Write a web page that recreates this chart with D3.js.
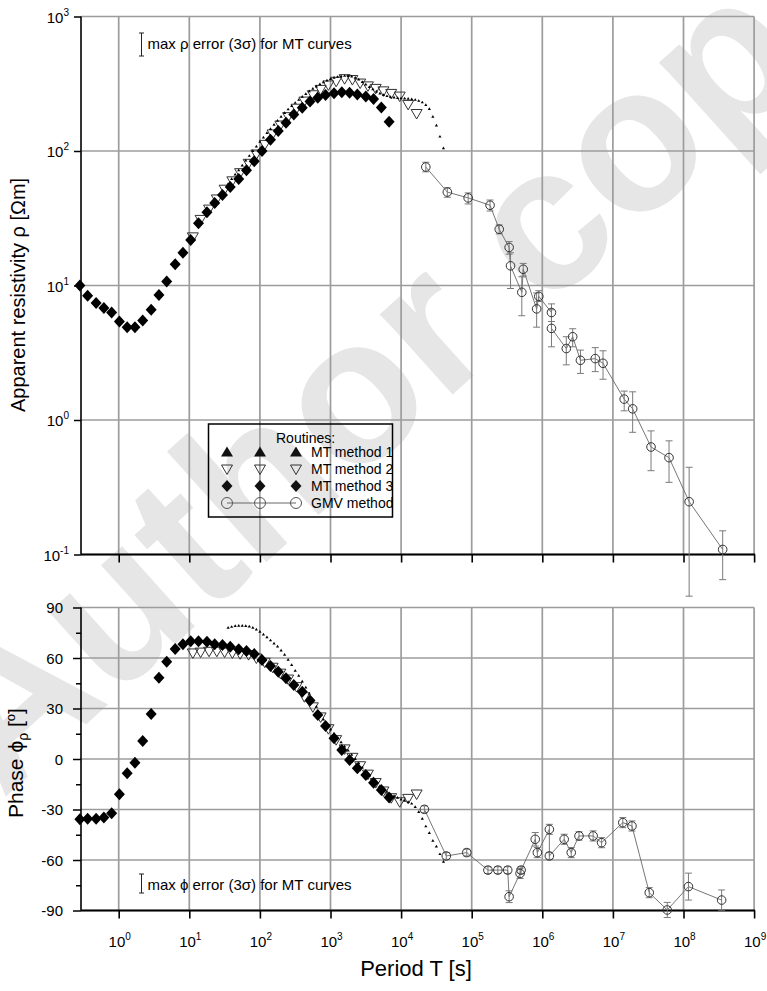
<!DOCTYPE html>
<html>
<head>
<meta charset="utf-8">
<script src="https://cdn.jsdelivr.net/npm/d3@7"></script>
<style>
  body { margin: 0; background: #fff; }
  svg { font-family: "Liberation Sans", Arial, sans-serif; }
</style>
</head>
<body>
<svg id="chart" width="767" height="991"></svg>
<script>
// ---- data (periods given as log10 T [s]) ----
// MT method 3 (black diamonds)
const mt3LogT = [-0.55, -0.44, -0.32, -0.21, -0.10, 0.01, 0.12, 0.23, 0.34, 0.46,
                 0.57, 0.68, 0.80, 0.91, 1.02, 1.13, 1.25, 1.36, 1.47, 1.58,
                 1.70, 1.81, 1.92, 2.03, 2.15, 2.26, 2.37, 2.48, 2.60, 2.71,
                 2.82, 2.93, 3.05, 3.16, 3.27, 3.38, 3.50, 3.61, 3.72, 3.83];
const mt3Rho = [10, 8.4, 7.4, 6.8, 6.3, 5.4, 4.9, 4.9, 5.5, 6.6,
                8.5, 10.7, 14.4, 17.5, 21.8, 29, 35, 41, 47, 54,
                62, 72, 84, 100, 121, 141, 162, 187, 210, 233,
                249, 261, 269, 273, 271, 263, 254, 244, 211, 165];
const mt3Phi = [-35.8, -35.5, -35.5, -34.7, -32.3, -21, -8.5, -2.2, 10.7, 26.7,
                48.3, 57.8, 65.3, 68.1, 70, 70, 69.7, 68.1, 67.7, 66.7,
                65.2, 64.2, 62.4, 58.8, 55.2, 51.9, 47.9, 44, 40, 34.7,
                26.1, 19.6, 12.3, 5.3, -0.6, -5.5, -9.5, -14.1, -18.4, -22.8];

// MT method 2 (open inverted triangles)
const mt2LogT = [1.05, 1.16, 1.28, 1.39, 1.50, 1.61, 1.72, 1.84, 1.95, 2.07,
                 2.18, 2.29, 2.40, 2.52, 2.63, 2.75, 2.86, 2.97, 3.08, 3.20,
                 3.31, 3.42, 3.53, 3.64, 3.75, 3.86, 3.98, 4.10, 4.22];
const mt2Rho = [23, 31, 37, 44, 52, 60, 69, 81, 95, 112,
                134, 156, 180, 208, 235, 262, 287, 310, 330, 345,
                340, 320, 305, 292, 280, 268, 256, 222, 190];
const mt2Phi = [63, 63.5, 64, 64, 63.5, 63, 62.5, 62, 60, 57.5,
                54.5, 51, 47.5, 43, 37, 31, 25, 18, 11.5, 6,
                1, -4, -9, -14, -19, -23, -25.4, -23.4, -20.8];

// MT method 1 (dotted, tiny triangles)
const mt1LogT = [1.55, 1.60, 1.65, 1.70, 1.75, 1.80, 1.85, 1.90, 1.95, 2.00,
                 2.05, 2.10, 2.15, 2.20, 2.25, 2.30, 2.35, 2.40, 2.45, 2.50,
                 2.55, 2.60, 2.65, 2.70, 2.75, 2.80, 2.85, 2.90, 2.95, 3.00,
                 3.05, 3.10, 3.15, 3.20, 3.25, 3.30, 3.35, 3.40, 3.45, 3.50,
                 3.55, 3.60, 3.65, 3.70, 3.75, 3.80, 3.85, 3.90, 3.95, 4.00,
                 4.05, 4.10, 4.15, 4.20, 4.25, 4.30, 4.35, 4.40, 4.45, 4.50,
                 4.55, 4.60];
const mt1Rho = [57, 62, 67, 72, 78, 85, 92, 100, 108, 117,
                126, 136, 146, 157, 168, 180, 192, 204, 216, 228,
                240, 253, 265, 278, 290, 302, 314, 325, 335, 343,
                350, 356, 360, 362, 361, 358, 350, 340, 326, 312,
                299, 288, 277, 268, 261, 256, 252, 250, 248, 247,
                246, 245, 243, 240, 236, 230, 220, 205, 180, 155,
                128, 105];
const mt1Phi = [78, 78.5, 79, 79.2, 79.2, 79, 78.7, 78, 77, 75.6,
                74, 72.3, 70.5, 68.6, 66.8, 64.5, 62, 59, 55.8, 52.5,
                49.5, 46, 42.5, 38.8, 35, 31, 27, 23.5, 20.5, 17.5,
                15, 12.5, 10, 7.5, 5, 2.5, 0, -2.5, -5, -7.5,
                -10, -12, -14, -16, -18, -19.5, -21, -22, -23, -24,
                -24.8, -25.5, -26.5, -28.5, -31.5, -35.5, -40, -44, -48.5, -52,
                -56.5, -61];

// GMV method (open circles with error bars)
const gmvRhoLogT = [4.35, 4.655, 4.95, 5.26, 5.39, 5.53, 5.55, 5.71, 5.73, 5.92,
                    5.95, 6.13, 6.13, 6.34, 6.43, 6.54, 6.75, 6.86, 7.16, 7.28,
                    7.54, 7.795, 8.08, 8.555];
const gmvRho   = [76, 49.5, 44.8, 39.5, 26.2, 19.2, 14.0, 8.9, 13.2, 6.7,
                  8.3, 6.3, 4.8, 3.4, 4.16, 2.78, 2.86, 2.64, 1.43, 1.21,
                  0.63, 0.525, 0.247, 0.109];
const gmvRhoLo = [70, 45.3, 40.4, 35.8, 24.2, 17.1, 9.5, 5.96, 11.75, 4.9,
                  7.6, 5.4, 3.5, 2.57, 3.5, 2.22, 2.29, 2.01, 1.17, 0.81,
                  0.42, 0.344, 0.049, 0.065];
const gmvRhoHi = [82.5, 53.3, 48.8, 43.2, 28.2, 21.2, 17.5, 11.6, 14.6, 8.8,
                  9.15, 7.3, 6.6, 4.16, 4.77, 3.31, 3.45, 3.27, 1.64, 1.62,
                  0.83, 0.70, 0.445, 0.150];

const gmvPhiLogT = [4.33, 4.64, 4.93, 5.23, 5.37, 5.51, 5.53, 5.685, 5.70, 5.90,
                    5.93, 6.10, 6.10, 6.31, 6.41, 6.52, 6.72, 6.84, 7.14, 7.27,
                    7.515, 7.77, 8.07, 8.54];
const gmvPhi    = [-29.9, -57.6, -55.6, -66, -66, -66, -81.8, -68, -66, -47.7,
                   -55.6, -41.8, -57.6, -47.7, -55.6, -45.7, -45.7, -49.7, -37.8, -39.8,
                   -79.4, -89.7, -75.8, -83.8];
const gmvPhiErr = [2, 2, 2, 2, 2, 2, 3.5, 3, 2, 4,
                   3, 3, 2, 3, 3, 2.5, 3, 3, 3, 3,
                   3, 4.5, 8, 6];

// ticks
const periodExp = [0, 1, 2, 3, 4, 5, 6, 7, 8, 9];
const rhoExp = [-1, 0, 1, 2, 3];
const phaseTicks = [90, 60, 30, 0, -30, -60, -90];
const phaseMinor = [75, 45, 15, -15, -45, -75];
const legendRows = ["MT method 1", "MT method 2", "MT method 3", "GMV method"];

// ---- layout ----
const svg = d3.select("#chart");
const left = 81, right = 754.1;
const x = d3.scaleLog().domain([1, 1e9]).range([118.7, right]);
const yRho = d3.scaleLog().domain([0.1, 1000]).range([554.5, 16.5]);
const yPhi = d3.scaleLinear().domain([-90, 90]).range([910.5, 607.5]);
const px = lt => x(Math.pow(10, lt));
const gridColor = "#9c9c9c";

// watermark
svg.append("text")
  .attr("transform", "translate(2,800) rotate(-42)")
  .attr("font-size", 205).attr("font-weight", "bold")
  .attr("fill", "#e6e6e6")
  .text("Author copy");

// ---- grids ----
function grid(g, yScale, yVals, y0, y1) {
  g.selectAll(".vg").data(periodExp).enter().append("line")
    .attr("x1", d => x(Math.pow(10, d))).attr("x2", d => x(Math.pow(10, d)))
    .attr("y1", y0).attr("y2", y1)
    .attr("stroke", gridColor).attr("stroke-width", 1.7);
  g.selectAll(".hg").data(yVals).enter().append("line")
    .attr("x1", left).attr("x2", right)
    .attr("y1", d => yScale(d)).attr("y2", d => yScale(d))
    .attr("stroke", gridColor).attr("stroke-width", 1.7);
}
const gTop = svg.append("g");
const gBot = svg.append("g");
grid(gTop, yRho, rhoExp.map(e => Math.pow(10, e)), yRho(1000), yRho(0.1));
grid(gBot, yPhi, phaseTicks, yPhi(90), yPhi(-90));

// ---- axes ----
function axisLines(g, yScale, y0, y1) {
  g.append("line").attr("x1", left).attr("x2", left).attr("y1", y0).attr("y2", y1)
    .attr("stroke", "#000").attr("stroke-width", 1.6);
  g.append("line").attr("x1", left).attr("x2", right + 1).attr("y1", y1).attr("y2", y1)
    .attr("stroke", "#000").attr("stroke-width", 2);
  const xa = g.append("g").attr("transform", `translate(0,${y1})`)
    .call(d3.axisBottom(x).tickValues(periodExp.map(e => Math.pow(10, e)))
      .tickSize(8).tickSizeOuter(0).tickFormat(""));
  xa.select(".domain").remove();
  xa.selectAll("line").attr("stroke", "#000").attr("stroke-width", 1.6);
}
axisLines(gTop, yRho, yRho(1000), yRho(0.1));
axisLines(gBot, yPhi, yPhi(90), yPhi(-90));

const ya = gTop.append("g").attr("transform", `translate(${left},0)`)
  .call(d3.axisLeft(yRho).tickValues(rhoExp.map(e => Math.pow(10, e)))
    .tickSize(7).tickSizeOuter(0).tickFormat(""));
ya.select(".domain").remove();
ya.selectAll("line").attr("stroke", "#000").attr("stroke-width", 1.5);

const pa = gBot.append("g").attr("transform", `translate(${left},0)`)
  .call(d3.axisLeft(yPhi).tickValues(phaseTicks).tickSize(8).tickSizeOuter(0).tickFormat(""));
pa.select(".domain").remove();
pa.selectAll("line").attr("stroke", "#000").attr("stroke-width", 1.5);
const pm = gBot.append("g").attr("transform", `translate(${left},0)`)
  .call(d3.axisLeft(yPhi).tickValues(phaseMinor).tickSize(5).tickSizeOuter(0).tickFormat(""));
pm.select(".domain").remove();
pm.selectAll("line").attr("stroke", "#000").attr("stroke-width", 1.5);

// tick labels
function powText(sel, e) {
  sel.append("tspan").text("10");
  sel.append("tspan").attr("dy", -7).attr("font-size", 10).text(e);
}
gTop.selectAll(".rl").data(rhoExp).enter().append("text")
  .attr("x", 69).attr("y", d => yRho(Math.pow(10, d)) + 6)
  .attr("text-anchor", "end").attr("font-size", 15)
  .each(function(d) { powText(d3.select(this), d); });
gBot.selectAll(".xl").data(periodExp).enter().append("text")
  .attr("x", d => x(Math.pow(10, d)) + 1).attr("y", 946.5)
  .attr("text-anchor", "middle").attr("font-size", 15)
  .each(function(d) { powText(d3.select(this), d); });
gBot.selectAll(".pl").data(phaseTicks).enter().append("text")
  .attr("x", 63).attr("y", d => yPhi(d) + 5.5)
  .attr("text-anchor", "end").attr("font-size", 15)
  .text(d => d);

// axis titles
svg.append("text").attr("transform", "translate(25,412) rotate(-90)")
  .attr("font-size", 20).text("Apparent resistivity ρ [Ωm]");
const pt = svg.append("text").attr("transform", "translate(23,818) rotate(-90)")
  .attr("font-size", 21);
pt.append("tspan").text("Phase ϕ");
pt.append("tspan").attr("font-size", 14).attr("dy", 5).text("ρ");
pt.append("tspan").attr("dy", -5).text(" [");
pt.append("tspan").attr("font-size", 13).attr("dy", -8).text("o");
pt.append("tspan").attr("dy", 8).text("]");
svg.append("text").attr("x", 416).attr("y", 976).attr("text-anchor", "middle")
  .attr("font-size", 22).text("Period T [s]");

// error annotations
function errNote(y0, y1, ty, sym) {
  const g = svg.append("g").attr("stroke", "#222").attr("stroke-width", 1);
  g.append("line").attr("x1", 141.5).attr("x2", 141.5).attr("y1", y0).attr("y2", y1);
  g.append("line").attr("x1", 139).attr("x2", 144).attr("y1", y0).attr("y2", y0);
  g.append("line").attr("x1", 139).attr("x2", 144).attr("y1", y1).attr("y2", y1);
  svg.append("text").attr("x", 147.5).attr("y", ty).attr("font-size", 15)
    .text(`max ${sym} error (3σ) for MT curves`);
}
errNote(33, 56, 49, "ρ");
errNote(874, 893, 890, "ϕ");

// ---- marks ----
const diamond = "M0,-6L5.5,0L0,6L-5.5,0Z";
const triDown = "M-5.5,-4L5.5,-4L0,5.5Z";
const triUp = "M-6,4.5L6,4.5L0,-5.5Z";
const tiny = "M-1.6,1L1.6,1L0,-1.7Z";

function gmv(g, lt, v, lo, hi, yScale) {
  const pts = lt.map((t, i) => ({ t, v: v[i], lo: lo[i], hi: hi[i] }));
  g.append("path").datum(pts)
    .attr("d", d3.line().x(d => px(d.t)).y(d => yScale(d.v)))
    .attr("fill", "none").attr("stroke", "#666").attr("stroke-width", 0.9);
  const eb = g.selectAll(".eb").data(pts).enter().append("g")
    .attr("stroke", "#7a7a7a").attr("stroke-width", 1);
  eb.append("line").attr("x1", d => px(d.t)).attr("x2", d => px(d.t))
    .attr("y1", d => yScale(d.lo)).attr("y2", d => yScale(d.hi));
  eb.append("line").attr("x1", d => px(d.t) - 3.5).attr("x2", d => px(d.t) + 3.5)
    .attr("y1", d => yScale(d.lo)).attr("y2", d => yScale(d.lo));
  eb.append("line").attr("x1", d => px(d.t) - 3.5).attr("x2", d => px(d.t) + 3.5)
    .attr("y1", d => yScale(d.hi)).attr("y2", d => yScale(d.hi));
  g.selectAll(".gc").data(pts).enter().append("circle")
    .attr("cx", d => px(d.t)).attr("cy", d => yScale(d.v)).attr("r", 4.3)
    .attr("fill", "none").attr("stroke", "#333").attr("stroke-width", 1);
}
gmv(gTop, gmvRhoLogT, gmvRho, gmvRhoLo, gmvRhoHi, yRho);
gmv(gBot, gmvPhiLogT, gmvPhi,
    gmvPhi.map((p, i) => p - gmvPhiErr[i]), gmvPhi.map((p, i) => p + gmvPhiErr[i]), yPhi);

function symbols(g, lt, v, yScale, shape, fill, stroke) {
  g.append("g").selectAll("path").data(lt.map((t, i) => [t, v[i]])).enter().append("path")
    .attr("transform", d => `translate(${px(d[0])},${yScale(d[1])})`)
    .attr("d", shape).attr("fill", fill).attr("stroke", stroke).attr("stroke-width", 1);
}
symbols(gTop, mt2LogT, mt2Rho, yRho, triDown, "none", "#333");
symbols(gBot, mt2LogT, mt2Phi, yPhi, triDown, "none", "#333");
symbols(gTop, mt3LogT, mt3Rho, yRho, diamond, "#000", "none");
symbols(gBot, mt3LogT, mt3Phi, yPhi, diamond, "#000", "none");
symbols(gTop, mt1LogT, mt1Rho, yRho, tiny, "#000", "none");
symbols(gBot, mt1LogT, mt1Phi, yPhi, tiny, "#000", "none");

// ---- legend ----
const lg = svg.append("g");
lg.append("rect").attr("x", 208.5).attr("y", 424).attr("width", 184).attr("height", 93)
  .attr("fill", "none").attr("stroke", "#000").attr("stroke-width", 1.5);
lg.append("text").attr("x", 276).attr("y", 443).attr("font-size", 14).text("Routines:");
const rowY = [452, 469, 486, 503];
const cols = [227, 260, 296];
const shapes = [triUp, triDown, diamond, null];
lg.append("line").attr("x1", cols[0]).attr("x2", cols[2]).attr("y1", rowY[3]).attr("y2", rowY[3])
  .attr("stroke", "#666").attr("stroke-width", 1);
legendRows.forEach((name, r) => {
  cols.forEach(cx => {
    if (shapes[r]) {
      lg.append("path").attr("transform", `translate(${cx},${rowY[r]})`).attr("d", shapes[r])
        .attr("fill", r === 1 ? "none" : "#111").attr("stroke", r === 1 ? "#333" : "none");
    } else {
      lg.append("circle").attr("cx", cx).attr("cy", rowY[r]).attr("r", 5.5)
        .attr("fill", "none").attr("stroke", "#555");
    }
  });
  lg.append("text").attr("x", 311).attr("y", rowY[r] + 5).attr("font-size", 14).text(name);
});
</script>
</body>
</html>
